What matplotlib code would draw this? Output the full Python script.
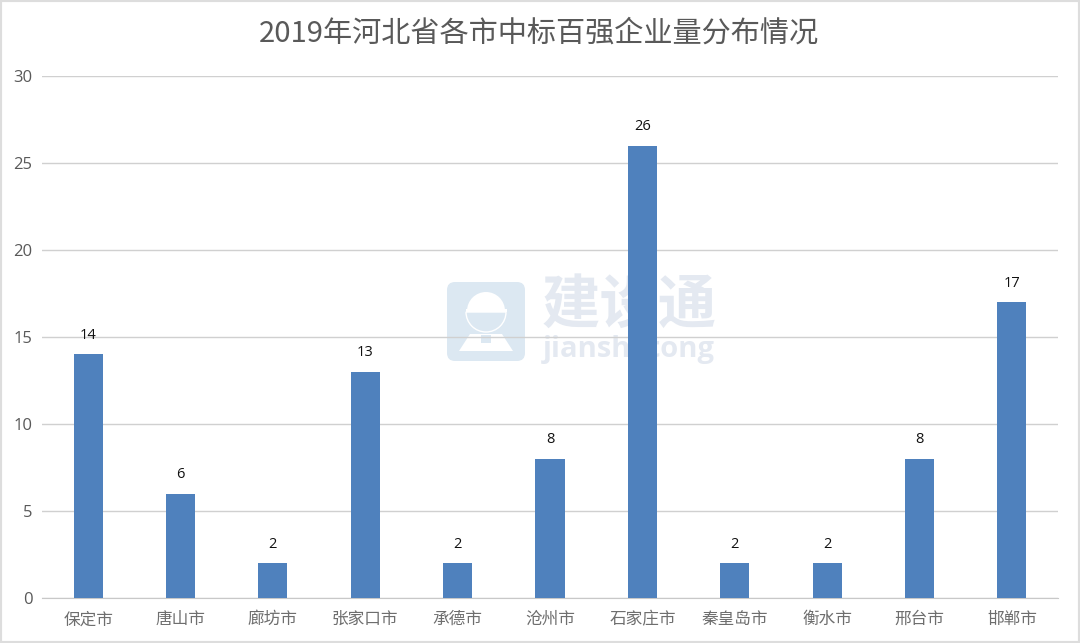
import matplotlib
matplotlib.use("Agg")
import matplotlib.pyplot as plt
from matplotlib.patches import FancyBboxPatch, Rectangle, Circle, Wedge, Polygon

plt.rcParams['font.family'] = ['Noto Sans CJK SC', 'DejaVu Sans']

cities = ['保定市', '唐山市', '廊坊市', '张家口市', '承德市', '沧州市', '石家庄市', '秦皇岛市', '衡水市', '邢台市', '邯郸市']
counts = [14, 6, 2, 13, 2, 8, 26, 2, 2, 8, 17]
yticks = [0, 5, 10, 15, 20, 25, 30]
title = '2019年河北省各市中标百强企业量分布情况'

W, H = 1080, 643
WM = '#dce8f2'
WM_TEXT = '#e4e9f1'
fig = plt.figure(figsize=(W / 100, H / 100), dpi=100, facecolor='white')


def fx(px):
    return px / W


def fy(py):
    return 1 - py / H


# outer frame of the picture
fig.add_artist(Rectangle((0, 0), 1, 1, transform=fig.transFigure, fill=False,
                         edgecolor='#dddddd', linewidth=3, zorder=0))

# watermark, behind the axes; icon drawn in pixel coordinates of a helper axes
wm_ax = fig.add_axes([0, 0, 1, 1], zorder=0)
wm_ax.set_xlim(0, W)
wm_ax.set_ylim(H, 0)
wm_ax.axis('off')
wm_ax.add_patch(FancyBboxPatch((455, 290), 62, 63, boxstyle='round,pad=8', facecolor=WM, edgecolor='none'))
wm_ax.add_patch(Wedge((486, 311), 19, 180, 360, facecolor='white', edgecolor='none'))
wm_ax.add_patch(Rectangle((466, 309), 41, 3, facecolor='white', edgecolor='none'))
wm_ax.add_patch(Wedge((486, 312), 20, 0, 180, facecolor='none', edgecolor='white', linewidth=1))
wm_ax.add_patch(Polygon([[459, 351], [470, 334], [502, 334], [513, 351]], closed=True, facecolor='white', edgecolor='none'))
wm_ax.add_patch(Rectangle((481, 335), 10, 8, facecolor=WM, edgecolor='none'))
wm_ax.text(629, 306, '建设通', ha='center', va='center', fontsize=42, color=WM_TEXT, weight='bold')
wm_ax.text(629, 349, 'jianshetong', ha='center', va='center', fontsize=21, color=WM_TEXT,
           family=['Open Sans', 'DejaVu Sans'], weight='bold')

ax = fig.add_axes([fx(42), fy(598), fx(1058 - 42), (598 - 76) / H], zorder=2)
ax.patch.set_visible(False)

x = list(range(len(cities)))
ax.bar(x, counts, width=0.315, color='#4f81bd', zorder=3)
for i, v in zip(x, counts):
    ax.text(i, v + 0.65, str(v), ha='center', va='bottom', fontsize=10.5, color='#111111',
            family=['Open Sans', 'DejaVu Sans'], zorder=5)

ax.set_xlim(-0.5, len(cities) - 0.5)
ax.set_ylim(0, 30)
ax.set_yticks(yticks)
ax.set_xticks(x)
ax.set_xticklabels(cities, fontsize=12, color='#6e6e6e', family=['Noto Sans CJK SC', 'DejaVu Sans'])
ax.tick_params(axis='x', length=0, pad=9.5)
ax.tick_params(axis='y', length=0, pad=7, labelsize=12, labelcolor='#595959')
for lab in ax.get_yticklabels():
    lab.set_family(['Open Sans', 'DejaVu Sans'])
ax.grid(axis='y', color='#d0d0d0', linewidth=1, zorder=0)
ax.set_axisbelow(True)
for s in ['top', 'left', 'right']:
    ax.spines[s].set_visible(False)
ax.spines['bottom'].set_color('#c8c8c8')

fig.text(fx(539), fy(34), title, ha='center', va='center', fontsize=21, color='#595959')

fig.savefig('out.png', dpi=100)
